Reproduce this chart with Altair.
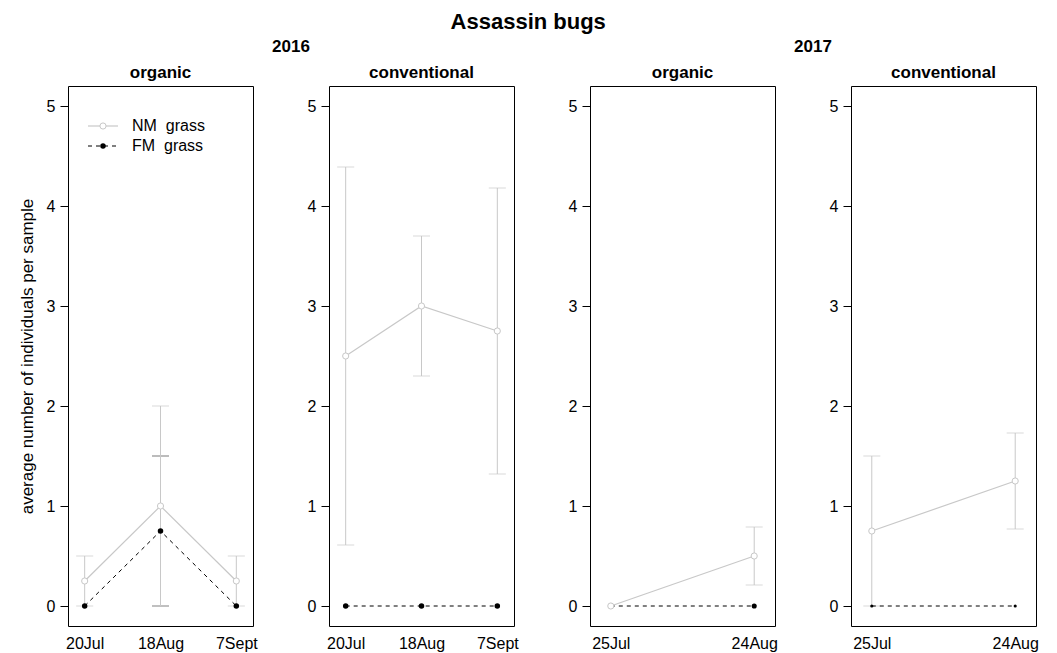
import json

import altair as alt
import pandas as pd

FONT = "Liberation Sans"
NM_GREY = "#c8c8c8"
FM_CAP = "#404040"

# sampling dates
dates_2016 = ["20Jul", "18Aug", "7Sept"]
dates_2017 = ["25Jul", "24Aug"]

# NM grass: mean and standard error per sampling date
nm_2016_org_mean = [0.25, 1.0, 0.25]
nm_2016_org_se = [0.25, 1.0, 0.25]
nm_2016_con_mean = [2.5, 3.0, 2.75]
nm_2016_con_se = [1.89, 0.70, 1.43]
nm_2017_org_mean = [0.0, 0.5]
nm_2017_org_se = [0.0, 0.29]
nm_2017_con_mean = [0.75, 1.25]
nm_2017_con_se = [0.75, 0.48]

# FM grass: mean and standard error per sampling date
fm_2016_org_mean = [0.0, 0.75, 0.0]
fm_2016_org_se = [0.0, 0.75, 0.0]
fm_2016_con_mean = [0.0, 0.0, 0.0]
fm_2016_con_se = [0.0, 0.0, 0.0]
fm_2017_org_mean = [0.0, 0.0]
fm_2017_org_se = [0.0, 0.0]
fm_2017_con_mean = [0.0, 0.0]
fm_2017_con_se = [0.0, 0.0]

Y_TICKS = [0, 1, 2, 3, 4, 5]
W, H = 185, 540


def heading(text, x, y):
    return alt.Chart(pd.DataFrame({"t": [text]})).mark_text(
        align="center", baseline="alphabetic", fontSize=17,
        fontWeight="bold", font=FONT, color="black",
    ).encode(text="t:N", x=alt.value(x), y=alt.value(y))


def panel(system, dates, nm_mean, nm_se, fm_mean, fm_se,
          y_title=None, year=None, legend=False, fm_size=30):
    n = len(dates)
    df = pd.DataFrame({
        "idx": list(range(1, n + 1)),
        "date": dates,
        "nm": nm_mean,
        "nm_se": nm_se,
        "nm_lo": [m - s for m, s in zip(nm_mean, nm_se)],
        "nm_hi": [m + s for m, s in zip(nm_mean, nm_se)],
        "fm": fm_mean,
        "fm_se": fm_se,
        "fm_lo": [m - s for m, s in zip(fm_mean, fm_se)],
        "fm_hi": [m + s for m, s in zip(fm_mean, fm_se)],
    })
    pad = 0.22 if n == 3 else 0.145
    xs = alt.Scale(domain=[1 - pad, n + pad], nice=False, zero=False)
    ys = alt.Scale(domain=[-0.2, 5.2], nice=False, zero=False)
    xaxis = alt.Axis(
        values=list(range(1, n + 1)),
        labelExpr=json.dumps([""] + dates) + "[datum.value]",
        ticks=False, domain=False, grid=False, title=None,
        labelPadding=9, labelFontSize=16, labelColor="black",
        labelFont=FONT,
    )
    yaxis = alt.Axis(
        values=Y_TICKS, format="d", tickSize=8, tickColor="black",
        labelPadding=5, labelFontSize=16, labelColor="black", labelFont=FONT,
        domain=False, grid=False, title=y_title, titleFontSize=17,
        titleFontWeight="normal", titleColor="black", titleFont=FONT,
        titlePadding=10,
    )

    def X():
        return alt.X("idx:Q", scale=xs, axis=xaxis)

    def Y(field):
        return alt.Y(f"{field}:Q", scale=ys, axis=yaxis)

    base = alt.Chart(df)

    def errorbars(prefix, color):
        has_err = base.transform_filter(f"datum.{prefix}_se > 0")
        stem = has_err.mark_rule(color=color, strokeWidth=1).encode(
            x=X(), y=Y(f"{prefix}_lo"), y2=f"{prefix}_hi:Q")
        lo = has_err.mark_tick(orient="horizontal", size=17, thickness=1,
                               color=color).encode(x=X(), y=Y(f"{prefix}_lo"))
        hi = has_err.mark_tick(orient="horizontal", size=17, thickness=1,
                               color=color).encode(x=X(), y=Y(f"{prefix}_hi"))
        return [stem, lo, hi]

    layers = []
    layers += errorbars("fm", FM_CAP)
    layers += errorbars("nm", NM_GREY)
    layers.append(base.mark_line(color="black", strokeWidth=1,
                                 strokeDash=[4, 4]).encode(x=X(), y=Y("fm")))
    layers.append(base.mark_point(shape="circle", filled=True, color="black",
                                  opacity=1, size=fm_size).encode(x=X(), y=Y("fm")))
    layers.append(base.mark_line(color=NM_GREY, strokeWidth=1.2).encode(
        x=X(), y=Y("nm")))
    layers.append(base.mark_point(shape="circle", filled=True, fill="white",
                                  stroke=NM_GREY, strokeWidth=1, opacity=1,
                                  size=38).encode(x=X(), y=Y("nm")))

    if legend:
        key = alt.Chart(pd.DataFrame({"k": [0]}))
        layers += [
            key.mark_rule(color=NM_GREY, strokeWidth=1.2).encode(
                x=alt.value(20), x2=alt.value(50), y=alt.value(40)),
            key.mark_point(shape="circle", filled=True, fill="white",
                           stroke=NM_GREY, strokeWidth=1, opacity=1,
                           size=38).encode(x=alt.value(35), y=alt.value(40)),
            key.mark_text(text="NM\u00a0\u00a0grass", align="left",
                          baseline="middle", fontSize=16, font=FONT,
                          color="black").encode(x=alt.value(64), y=alt.value(40)),
            key.mark_rule(color="black", strokeWidth=1,
                          strokeDash=[4, 4]).encode(
                x=alt.value(20), x2=alt.value(50), y=alt.value(60)),
            key.mark_point(shape="circle", filled=True, color="black",
                           opacity=1, size=30).encode(
                x=alt.value(35), y=alt.value(60)),
            key.mark_text(text="FM\u00a0\u00a0grass", align="left",
                          baseline="middle", fontSize=16, font=FONT,
                          color="black").encode(x=alt.value(64), y=alt.value(60)),
        ]

    # panel heading, and the year heading centred over this panel and the next
    layers.append(heading(system, W / 2, -8))
    if year:
        layers.append(heading(year, W + 38, -34))

    return alt.layer(*layers).properties(width=W, height=H)


p1 = panel("organic", dates_2016, nm_2016_org_mean, nm_2016_org_se,
           fm_2016_org_mean, fm_2016_org_se,
           y_title="average number of individuals per sample",
           year="2016", legend=True)
p2 = panel("conventional", dates_2016, nm_2016_con_mean, nm_2016_con_se,
           fm_2016_con_mean, fm_2016_con_se)
p3 = panel("organic", dates_2017, nm_2017_org_mean, nm_2017_org_se,
           fm_2017_org_mean, fm_2017_org_se, year="2017", fm_size=26)
p4 = panel("conventional", dates_2017, nm_2017_con_mean, nm_2017_con_se,
           fm_2017_con_mean, fm_2017_con_se, fm_size=10)

chart = alt.hconcat(p1, p2, p3, p4, spacing=76, bounds="flush").properties(
    title=alt.TitleParams("Assassin bugs", fontSize=22, fontWeight="bold",
                          font=FONT, color="black", anchor="middle", offset=4),
    padding={"left": 17, "top": 10, "right": 5, "bottom": 2},
).configure(font=FONT).configure_view(stroke="black", strokeWidth=1)

chart.save("out.html", embed_options={"renderer": "svg", "actions": False})
